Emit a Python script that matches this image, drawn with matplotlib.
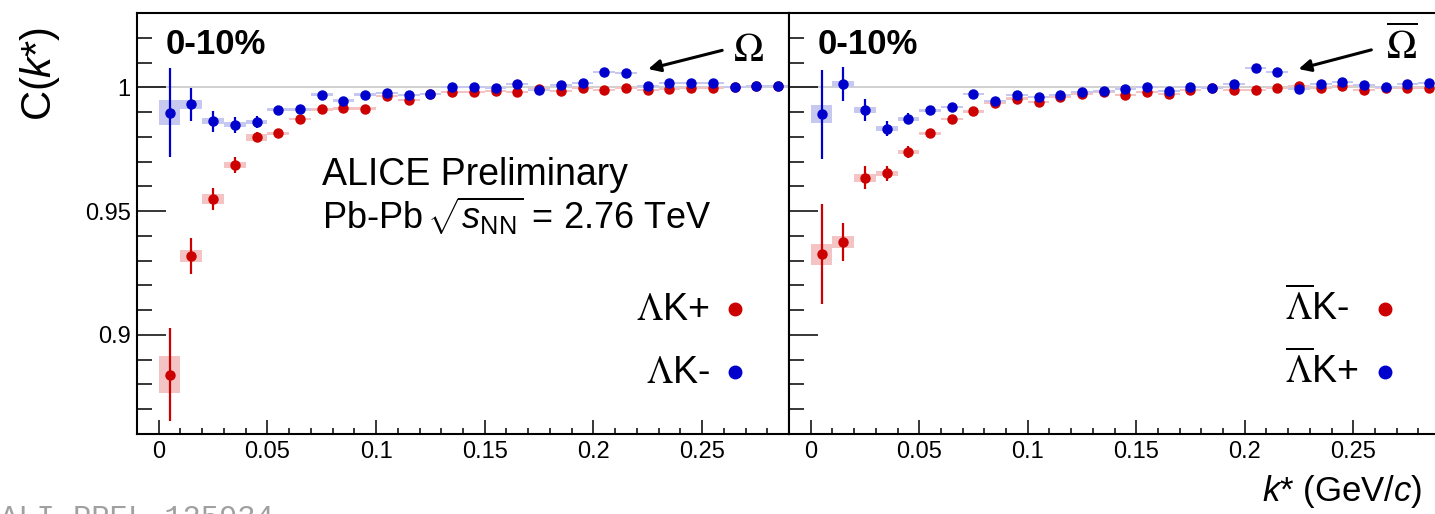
import matplotlib
matplotlib.use("Agg")
import matplotlib.pyplot as plt
from matplotlib.ticker import MultipleLocator
import numpy as np

plt.rcParams['font.family'] = ['Liberation Sans', 'DejaVu Sans']
plt.rcParams['mathtext.fontset'] = 'custom'
plt.rcParams['mathtext.rm'] = 'Liberation Sans'
plt.rcParams['mathtext.it'] = 'Liberation Sans:italic'
plt.rcParams['mathtext.bf'] = 'Liberation Sans:bold'

# bin centres in k* (GeV/c)
kstar = np.arange(0.005, 0.29, 0.01)

# Lambda K+ (left, red)
lk_plus = [0.884, 0.932, 0.9549, 0.9686, 0.9798, 0.9814, 0.9872, 0.9911, 0.9915, 0.9914,
           0.9966, 0.9949, 0.9974, 0.9982, 0.9982, 0.9984, 0.9980, 0.9995, 0.9984, 0.9997,
           0.9989, 0.9996, 0.9989, 0.9993, 0.9997, 0.9997, 1.0000, 1.0005, 1.0007]
lk_plus_stat = [0.0187, 0.0073, 0.0044, 0.0032, 0.0020, 0.0014, 0.0012, 0.0010, 0.0009, 0.0008,
                0.0007, 0.0007, 0.0006, 0.0006, 0.0005, 0.0005, 0.0005, 0.0005, 0.0004, 0.0004,
                0.0004, 0.0004, 0.0004, 0.0004, 0.0004, 0.0004, 0.0004, 0.0004, 0.0004]
lk_plus_syst = [0.0074, 0.0024, 0.0020, 0.0011, 0.0013, 0.0006, 0.0005, 0.0005, 0.0005, 0.0005,
                0.0004, 0.0004, 0.0004, 0.0004, 0.0004, 0.0004, 0.0004, 0.0004, 0.0004, 0.0004,
                0.0004, 0.0004, 0.0004, 0.0004, 0.0004, 0.0004, 0.0004, 0.0004, 0.0004]

# Lambda K- (left, blue)
lk_minus = [0.9897, 0.9932, 0.9863, 0.9848, 0.9860, 0.9909, 0.9911, 0.9970, 0.9946, 0.9970,
            0.9977, 0.9968, 0.9971, 1.0003, 1.0000, 0.9999, 1.0015, 0.9988, 1.0008, 1.0018,
            1.0061, 1.0058, 1.0007, 1.0019, 1.0016, 1.0016, 1.0003, 1.0005, 1.0006]
lk_minus_stat = [0.0180, 0.0067, 0.0042, 0.0031, 0.0025, 0.0015, 0.0012, 0.0010, 0.0009, 0.0008,
                 0.0007, 0.0007, 0.0006, 0.0006, 0.0005, 0.0005, 0.0005, 0.0005, 0.0004, 0.0004,
                 0.0004, 0.0004, 0.0004, 0.0004, 0.0004, 0.0004, 0.0004, 0.0004, 0.0004]
lk_minus_syst = [0.0051, 0.0018, 0.0011, 0.0010, 0.0008, 0.0006, 0.0005, 0.0005, 0.0005, 0.0005,
                 0.0004, 0.0004, 0.0004, 0.0004, 0.0004, 0.0004, 0.0004, 0.0004, 0.0004, 0.0004,
                 0.0004, 0.0004, 0.0004, 0.0004, 0.0004, 0.0004, 0.0004, 0.0004, 0.0004]

# anti-Lambda K- (right, red)
alk_minus = [0.9326, 0.9376, 0.9635, 0.9652, 0.9739, 0.9814, 0.9871, 0.9903, 0.9938, 0.9954,
             0.9942, 0.9961, 0.9972, 0.9980, 0.9969, 0.9982, 0.9973, 0.9989, 0.9996, 0.9989,
             0.9989, 0.9996, 1.0005, 0.9996, 1.0004, 0.9989, 0.9997, 0.9997, 0.9997]
alk_minus_stat = [0.0202, 0.0077, 0.0046, 0.0032, 0.0024, 0.0015, 0.0012, 0.0010, 0.0009, 0.0008,
                  0.0007, 0.0007, 0.0006, 0.0006, 0.0005, 0.0005, 0.0005, 0.0005, 0.0004, 0.0004,
                  0.0004, 0.0004, 0.0004, 0.0004, 0.0004, 0.0004, 0.0004, 0.0004, 0.0004]
alk_minus_syst = [0.0042, 0.0025, 0.0016, 0.0012, 0.0008, 0.0006, 0.0005, 0.0005, 0.0005, 0.0005,
                  0.0004, 0.0004, 0.0004, 0.0004, 0.0004, 0.0004, 0.0004, 0.0004, 0.0004, 0.0004,
                  0.0004, 0.0004, 0.0004, 0.0004, 0.0004, 0.0004, 0.0004, 0.0004, 0.0004]

# anti-Lambda K+ (right, blue)
alk_plus = [0.9891, 1.0013, 0.9908, 0.9833, 0.9873, 0.9908, 0.9920, 0.9973, 0.9945, 0.9969,
            0.9961, 0.9969, 0.9982, 0.9984, 0.9992, 1.0003, 0.9987, 1.0001, 0.9996, 1.0012,
            1.0079, 1.0063, 0.9992, 1.0013, 1.0023, 1.0009, 1.0000, 1.0013, 1.0016]
alk_plus_stat = [0.0179, 0.0069, 0.0043, 0.0029, 0.0022, 0.0015, 0.0012, 0.0010, 0.0009, 0.0008,
                 0.0007, 0.0007, 0.0006, 0.0006, 0.0005, 0.0005, 0.0005, 0.0005, 0.0004, 0.0004,
                 0.0004, 0.0004, 0.0004, 0.0004, 0.0004, 0.0004, 0.0004, 0.0004, 0.0004]
alk_plus_syst = [0.0037, 0.0013, 0.0011, 0.0010, 0.0008, 0.0006, 0.0005, 0.0005, 0.0005, 0.0005,
                 0.0004, 0.0004, 0.0004, 0.0004, 0.0004, 0.0004, 0.0004, 0.0004, 0.0004, 0.0004,
                 0.0004, 0.0004, 0.0004, 0.0004, 0.0004, 0.0004, 0.0004, 0.0004, 0.0004]

red = '#cc0000'
red_box = '#f4c4c4'
blue = '#0000cc'
blue_box = '#c6c8f0'


def draw_series(ax, y, stat, syst, col, boxcol):
    y = np.array(y)
    syst = np.array(syst)
    ax.bar(kstar, 2 * syst, width=0.01, bottom=y - syst, color=boxcol,
           edgecolor='none', zorder=2)
    ax.errorbar(kstar, y, yerr=stat, fmt='o', color=col, ms=6.5, elinewidth=1.6,
                capsize=0, zorder=4)


def style_axes(ax, show_ylabels):
    ax.set_xlim(-0.01, 0.29)
    ax.set_ylim(0.86, 1.03)
    ax.axhline(1.0, color='#c8c8c8', lw=1.2, zorder=1)
    ax.xaxis.set_major_locator(MultipleLocator(0.05))
    ax.xaxis.set_minor_locator(MultipleLocator(0.01))
    ax.yaxis.set_major_locator(MultipleLocator(0.05))
    ax.yaxis.set_minor_locator(MultipleLocator(0.01))
    ax.tick_params(axis='x', which='major', direction='in', length=10, width=1.1,
                   labelsize=17, pad=5, top=False)
    ax.tick_params(axis='x', which='minor', direction='in', length=4.5, width=1.1, top=False)
    ax.tick_params(axis='y', which='major', direction='in', length=21, width=1.1,
                   labelsize=17, pad=4.5, right=False, labelleft=show_ylabels)
    ax.tick_params(axis='y', which='minor', direction='in', length=10.5, width=1.1, right=False)
    ax.set_xticks([0, 0.05, 0.1, 0.15, 0.2, 0.25])
    ax.set_xticklabels(['0', '0.05', '0.1', '0.15', '0.2', '0.25'])
    if show_ylabels:
        ax.set_yticks([0.9, 0.95, 1.0])
        ax.set_yticklabels(['0.9', '0.95', '1'])
    for s in ax.spines.values():
        s.set_linewidth(1.5)


fig = plt.figure(figsize=(14.35, 5.14), dpi=100)
ax1 = fig.add_axes([137 / 1435, 80 / 514, 652 / 1435, 421 / 514])
ax2 = fig.add_axes([789 / 1435, 80 / 514, 651 / 1435, 421 / 514])

style_axes(ax1, True)
style_axes(ax2, False)

draw_series(ax1, lk_plus, lk_plus_stat, lk_plus_syst, red, red_box)
draw_series(ax1, lk_minus, lk_minus_stat, lk_minus_syst, blue, blue_box)
draw_series(ax2, alk_minus, alk_minus_stat, alk_minus_syst, red, red_box)
draw_series(ax2, alk_plus, alk_plus_stat, alk_plus_syst, blue, blue_box)

for ax in (ax1, ax2):
    ax.text(0.003, 1.0172, '0-10%', fontsize=25, fontweight='bold', ha='left', va='center')

ax1.text(0.075, 0.9605, 'ALICE Preliminary', fontsize=27, ha='left', va='baseline')
ax1.text(0.075, 0.9428, r'Pb-Pb$\,\sqrt{s_{\mathrm{NN}}}$ = 2.76 TeV', fontsize=26,
         ha='left', va='baseline')

# Omega annotations
ax1.annotate('', xy=(0.224, 1.0071), xytext=(0.2605, 1.0152),
             arrowprops=dict(arrowstyle='-|>', color='black', lw=2.2, mutation_scale=18))
ax1.text(0.2715, 1.0152, r'$\Omega$', fontsize=29, ha='center', va='center',
         math_fontfamily='stix')
ax2.annotate('', xy=(0.2236, 1.0071), xytext=(0.2596, 1.0154),
             arrowprops=dict(arrowstyle='-|>', color='black', lw=2.2, mutation_scale=18))
ax2.text(0.2726, 1.0165, r'$\overline{\Omega}$', fontsize=29, ha='center', va='center',
         math_fontfamily='stix')

# legends
leg_y = [0.9104, 0.8851]
leg_base = [0.9061, 0.8805]
ax1.text(0.2535, leg_base[0], r'$\Lambda$K+', fontsize=27, ha='right', va='baseline',
         math_fontfamily='stix')
ax1.text(0.2535, leg_base[1], r'$\Lambda$K-', fontsize=27, ha='right', va='baseline',
         math_fontfamily='stix')
ax1.plot([0.265], [leg_y[0]], 'o', color=red, ms=9)
ax1.plot([0.265], [leg_y[1]], 'o', color=blue, ms=9)

ax2.text(0.2185, leg_base[0], r'$\overline{\Lambda}$K-', fontsize=27, ha='left', va='baseline',
         math_fontfamily='stix')
ax2.text(0.2185, leg_base[1], r'$\overline{\Lambda}$K+', fontsize=27, ha='left', va='baseline',
         math_fontfamily='stix')
ax2.plot([0.2645], [leg_y[0]], 'o', color=red, ms=9)
ax2.plot([0.2645], [leg_y[1]], 'o', color=blue, ms=9)

fig.text(40 / 1435, 1 - 74 / 514, r'C($k$*)', fontsize=30, rotation=90,
         ha='center', va='center')
fig.text(1422 / 1435, 1 - 492 / 514, r'$k$* (GeV/$c$)', fontsize=25,
         ha='right', va='center')
fig.text(0.0, 1 - 504 / 514, 'ALI-PREL-125934', fontsize=22, color='#a0a0a0',
         family='Liberation Mono', ha='left', va='top')

fig.savefig('out.png', dpi=100)
